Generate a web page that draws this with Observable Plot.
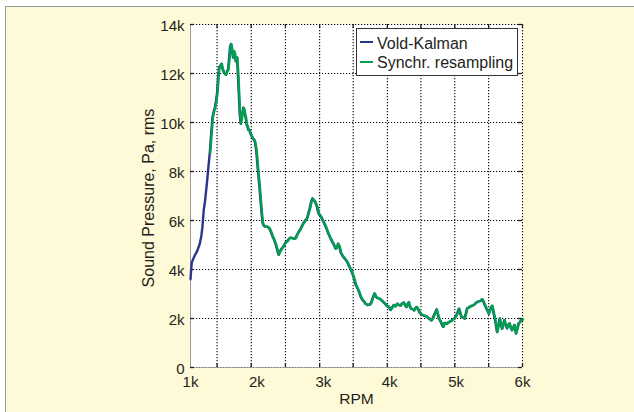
<!DOCTYPE html>
<html>
<head>
<meta charset="utf-8">
<script src="https://cdn.jsdelivr.net/npm/d3@7"></script>
<script src="https://cdn.jsdelivr.net/npm/@observablehq/plot@0.6"></script>
<style>
  html, body { margin: 0; padding: 0; background: #fff; }
  #wrap { position: relative; width: 634px; height: 412px; overflow: hidden;
          font-family: "Liberation Sans", Arial, sans-serif; color: #231f20; }
  #panel { position: absolute; left: 5px; top: 6px; width: 700px; height: 500px;
           background: #fef9d6; border-left: 1px solid #9a9a9a; border-top: 1px solid #9a9a9a; }
  #chart { position: absolute; left: 0; top: 0; }
  #legend { position: absolute; left: 356px; top: 28px; width: 162px; height: 48px;
            box-sizing: border-box; background: #fff; border: 1px solid #333; font-size: 16px; }
  #legend .sw { position: absolute; left: 3px; width: 13px; height: 2px; }
  #legend .lb { position: absolute; left: 20px; line-height: 20px; white-space: nowrap; }
</style>
</head>
<body>
<div id="wrap">
  <div id="panel"></div>
  <div id="chart"></div>
  <div id="legend"></div>
</div>
<script>
// Order-tracked sound pressure versus engine speed
const rpm = [
  1000, 1010, 1020, 1060, 1100, 1140, 1165, 1180, 1200, 1215, 1250, 1270, 1290, 1310, 1330, 1350,
  1365, 1385, 1400, 1415, 1430, 1445, 1465, 1480, 1500, 1530, 1550, 1565, 1580, 1595, 1610, 1625,
  1640, 1655, 1665, 1680, 1690, 1700, 1715, 1730, 1740, 1755, 1770, 1780, 1795, 1805, 1820, 1830,
  1845, 1855, 1870, 1885, 1900, 1920, 1935, 1955, 1970, 1985, 1995, 2010, 2020, 2040, 2055, 2070,
  2085, 2100, 2120, 2150, 2180, 2200, 2235, 2260, 2285, 2305, 2325, 2340, 2370, 2400, 2430, 2455,
  2480, 2505, 2530, 2560, 2580, 2600, 2630, 2655, 2690, 2715, 2740, 2755, 2775, 2795, 2815, 2835,
  2850, 2865, 2885, 2905, 2920, 2935, 2965, 3000, 3035, 3070, 3110, 3150, 3185, 3205, 3220, 3240,
  3260, 3290, 3335, 3360, 3385, 3410, 3435, 3460, 3485, 3510, 3535, 3560, 3590, 3610, 3635, 3665,
  3700, 3720, 3745, 3770, 3790, 3810, 3850, 3885, 3910, 3935, 3960, 3985, 4010, 4035, 4060, 4085,
  4110, 4135, 4160, 4185, 4210, 4230, 4250, 4270, 4285, 4300, 4320, 4345, 4365, 4385, 4405, 4430,
  4455, 4485, 4515, 4545, 4575, 4600, 4625, 4645, 4665, 4685, 4705, 4720, 4740, 4770, 4790, 4805,
  4820, 4840, 4860, 4885, 4915, 4945, 4975, 4995, 5015, 5040, 5058, 5075, 5100, 5125, 5145, 5165,
  5190, 5215, 5240, 5265, 5290, 5315, 5340, 5365, 5390, 5410, 5425, 5440, 5455, 5475, 5490, 5510,
  5525, 5540, 5558, 5575, 5595, 5615, 5635, 5655, 5672, 5690, 5708, 5725, 5745, 5765, 5785, 5800,
  5820, 5840, 5858, 5875, 5890, 5900, 5920, 5940, 5960, 5975, 6000
];

// Sound pressure (Pa, rms) from the Vold-Kalman filter
const voldKalman = [
  3600, 4000, 4300, 4550, 4750, 5050, 5400, 5750, 6450, 6700, 7600, 8200, 8750, 9500, 10200, 10450,
  10600, 10900, 11200, 11800, 12250, 12300, 12400, 12200, 12050, 11950, 12100, 12150, 12600, 13100, 13200, 12950,
  12650, 12900, 12800, 12500, 12600, 12650, 11900, 11000, 10400, 9950, 10200, 10400, 10600, 10550, 10300, 10200,
  9900, 9850, 9700, 9700, 9550, 9450, 9350, 9300, 9200, 8950, 8700, 8200, 7900, 7300, 6800, 6300,
  5900, 5800, 5750, 5750, 5700, 5600, 5350, 5200, 5000, 4800, 4600, 4700, 4850, 4950, 5100, 5150,
  5250, 5300, 5280, 5250, 5280, 5400, 5550, 5650, 5850, 5950, 6050, 6100, 6300, 6500, 6750, 6900,
  6850, 6800, 6700, 6550, 6350, 6250, 6150, 5950, 5750, 5500, 5250, 5050, 4850, 4900, 5050, 4950,
  4700, 4550, 4400, 4300, 4150, 4000, 3850, 3650, 3400, 3250, 3100, 2900, 2750, 2700, 2600, 2550,
  2570, 2650, 2850, 3020, 2900, 2840, 2800, 2720, 2650, 2580, 2500, 2480, 2350, 2450, 2550, 2500,
  2600, 2550, 2520, 2620, 2650, 2550, 2470, 2600, 2660, 2500, 2400, 2380, 2330, 2420, 2470, 2350,
  2220, 2150, 2120, 2100, 2030, 1980, 1920, 2000, 2130, 2250, 2370, 2200, 2000, 1850, 1720, 1660,
  1800, 1820, 1780, 1850, 1880, 1950, 2000, 2100, 2200, 2400, 2250, 2080, 2050, 2000, 2200, 2420,
  2450, 2500, 2520, 2550, 2620, 2680, 2700, 2720, 2780, 2700, 2580, 2500, 2400, 2300, 2200, 2350,
  2450, 2520, 2300, 2080, 1800, 1450, 1700, 2000, 1800, 1580, 1750, 1930, 1750, 1600, 1720, 1800,
  1650, 1520, 1620, 1730, 1550, 1390, 1600, 1800, 1850, 1930, 1960
];

// Synchronous resampling result only begins above this speed
const resamplingStartRpm = 1290;

const yTicks = [0, 2000, 4000, 6000, 8000, 10000, 12000, 14000];
const xLabelTicks = [1000, 2000, 3000, 4000, 5000, 6000];
const xGridTicks = [1400, 1915, 2430, 2945, 3450, 3965, 4470, 4980, 5490, 6000];

const seriesNames = ["Vold-Kalman", "Synchr. resampling"];
const seriesColors = ["#2b3590", "#00a04e"];

const kFormat = d => d === 0 ? "0" : `${d / 1000}k`;

const vk = rpm.map((r, i) => ({rpm: r, p: voldKalman[i]}));
const sr = vk.filter(d => d.rpm >= resamplingStartRpm);

const W = 634, H = 412;
const mL = 190, mR = 112, mT = 24, mB = 45;
const frameW = W - mL - mR, frameH = H - mT - mB;
const tickLen = 4;
const ink = "#231f20";

const chart = Plot.plot({
  width: W, height: H,
  marginLeft: mL, marginRight: mR, marginTop: mT, marginBottom: mB,
  style: {background: "transparent", fontFamily: "'Liberation Sans', Arial, sans-serif", color: ink},
  x: {domain: [1000, 6000], label: null},
  y: {domain: [0, 14000], label: null},
  marks: [
    Plot.frame({fill: "white", stroke: "none"}),
    // dotted grid
    Plot.gridY(yTicks, {stroke: "#000", strokeOpacity: 1, strokeWidth: 1.1, strokeDasharray: "1.2,1.8"}),
    Plot.gridX(xGridTicks, {stroke: "#000", strokeOpacity: 1, strokeWidth: 1.1, strokeDasharray: "1.2,1.8"}),
    // left and bottom axis lines
    Plot.ruleX([1000], {stroke: "#9a9a9a"}),
    Plot.ruleY([0], {stroke: "#9a9a9a", strokeOpacity: 0.8}),
    // inward tick marks on all four sides
    Plot.tickY(yTicks, {stroke: ink, strokeWidth: 1.3, insetRight: frameW - tickLen}),
    Plot.tickY(yTicks, {stroke: ink, strokeWidth: 1.3, insetLeft: frameW - tickLen}),
    Plot.tickX(xGridTicks, {stroke: ink, strokeWidth: 1.3, insetTop: frameH - tickLen}),
    Plot.tickX(xGridTicks, {stroke: ink, strokeWidth: 1.3, insetBottom: frameH - tickLen}),
    // the two order tracks
    Plot.line(vk, {x: "rpm", y: "p", stroke: seriesColors[0], strokeWidth: 2.4, strokeLinejoin: "round"}),
    Plot.line(sr, {x: "rpm", y: "p", stroke: seriesColors[1], strokeWidth: 2.4, strokeLinejoin: "round", dx: 0.5}),
    // tick labels
    Plot.axisY(yTicks, {tickSize: 0, tickPadding: 6, tickFormat: kFormat, fontSize: 15, dy: 2, label: null, fill: ink}),
    Plot.axisX(xLabelTicks, {tickSize: 0, tickPadding: 9, tickFormat: kFormat, fontSize: 15, label: null, fill: ink}),
    // axis titles
    Plot.text(["RPM"], {text: d => d, frameAnchor: "bottom", lineAnchor: "middle", dy: 32, fontSize: 15.5, fill: ink}),
    Plot.text(["Sound Pressure, Pa, rms"], {text: d => d, frameAnchor: "left", textAnchor: "middle", lineAnchor: "middle",
      rotate: -90, dx: -42, dy: 2, fontSize: 16, fill: ink})
  ]
});
document.getElementById("chart").appendChild(chart);

// legend box in the upper right of the plot
const legend = document.getElementById("legend");
seriesNames.forEach((name, i) => {
  const sw = document.createElement("div");
  sw.className = "sw";
  sw.style.top = (12 + 20 * i) + "px";
  sw.style.background = seriesColors[i];
  const lb = document.createElement("div");
  lb.className = "lb";
  lb.style.top = (5 + 19 * i) + "px";
  lb.textContent = name;
  legend.appendChild(sw);
  legend.appendChild(lb);
});
</script>
</body>
</html>
